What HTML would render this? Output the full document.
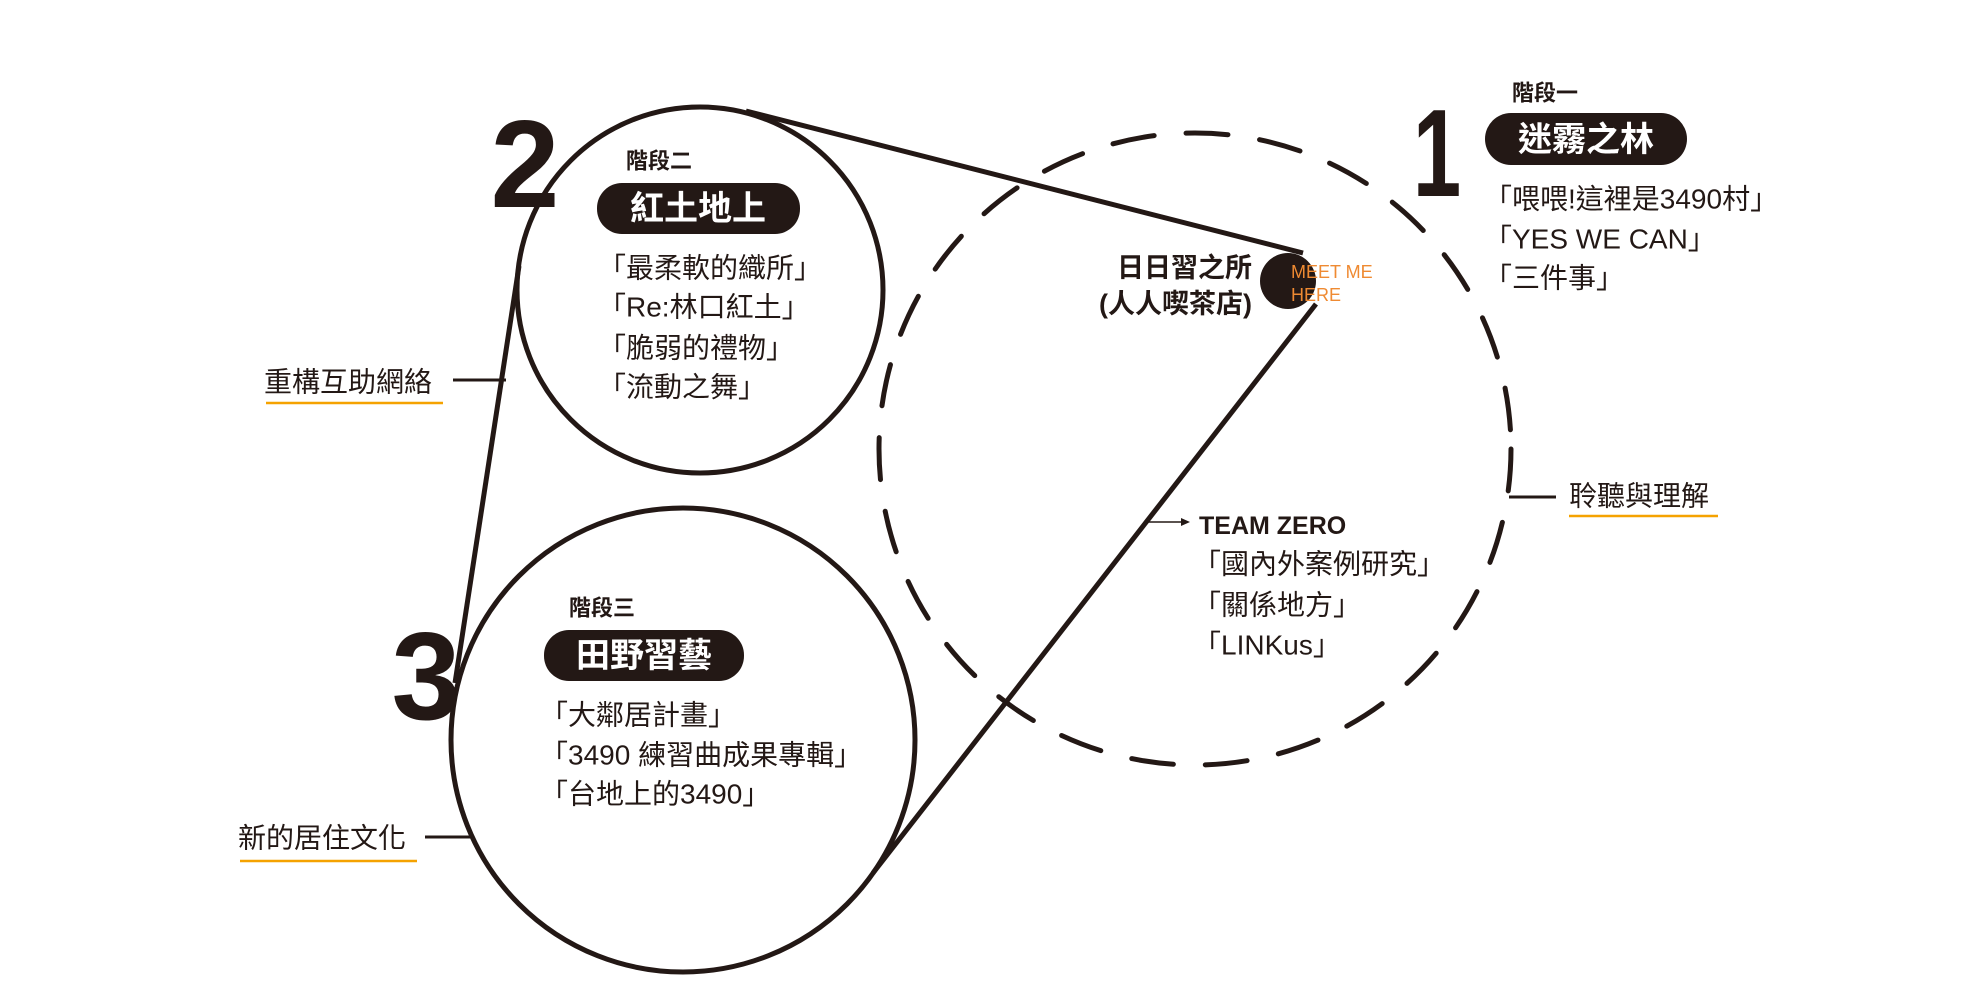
<!DOCTYPE html>
<html><head><meta charset="utf-8"><style>
html,body{margin:0;padding:0;background:#fff;}
svg{display:block;}
text{font-family:"Liberation Sans","Noto Sans CJK TC",sans-serif;fill:#231815;}
</style></head><body>
<svg width="1985" height="1000" viewBox="0 0 1985 1000" xmlns="http://www.w3.org/2000/svg">
<g fill="none" stroke="#231815" stroke-width="5">
<circle cx="1195" cy="449" r="316" stroke-dasharray="42 32" stroke-linecap="round"/>
<circle cx="700" cy="290" r="183"/>
<circle cx="683" cy="740" r="232"/>
<line x1="746" y1="111" x2="1303" y2="253"/>
<line x1="1316" y1="304" x2="873" y2="873"/>
<line x1="519" y1="266" x2="455" y2="683"/>
<line x1="453" y1="380" x2="506" y2="380" stroke-width="3"/>
<line x1="425" y1="837" x2="471" y2="837" stroke-width="3"/>
<line x1="1509" y1="497" x2="1556" y2="497" stroke-width="3"/>
<line x1="1145" y1="522" x2="1183" y2="522" stroke-width="1.5"/>
</g>
<polygon points="1190,522 1181,518 1181,526" fill="#231815"/>
<circle cx="1288" cy="281" r="28" fill="#231815"/>
<g stroke="#f5a200" stroke-width="2.5">
<line x1="266" y1="403" x2="443" y2="403"/>
<line x1="240" y1="861" x2="417" y2="861"/>
<line x1="1569" y1="516" x2="1718" y2="516"/>
</g>
<rect x="1485" y="113" width="202" height="52" rx="26" fill="#231815"/>
<rect x="597" y="183" width="203" height="51" rx="25" fill="#231815"/>
<rect x="544" y="630" width="200" height="51" rx="25" fill="#231815"/>
<g font-weight="bold" dominant-baseline="central">
<text x="0" y="153" font-size="124" text-anchor="middle" transform="translate(1437,0) scale(0.7,1)">1</text>
<text x="525" y="165" font-size="124" text-anchor="middle">2</text>
<text x="426" y="677" font-size="124" text-anchor="middle">3</text>
<text x="1512" y="93" font-size="22">階段一</text>
<text x="626" y="161" font-size="22">階段二</text>
<text x="569" y="608" font-size="22">階段三</text>
<text x="1586" y="140" font-size="34" text-anchor="middle" style="fill:#fff">迷霧之林</text>
<text x="698" y="209" font-size="34" text-anchor="middle" style="fill:#fff">紅土地上</text>
<text x="644" y="656" font-size="34" text-anchor="middle" style="fill:#fff">田野習藝</text>
<text x="1252" y="268" font-size="27" text-anchor="end">日日習之所</text>
<text x="1252" y="304" font-size="27" text-anchor="end">(人人喫茶店)</text>
<text x="1199" y="526" font-size="25">TEAM ZERO</text>
</g>
<g font-size="18" dominant-baseline="central">
<text x="1291" y="272" style="fill:#ef8a32">MEET ME</text>
<text x="1291" y="295" style="fill:#ef8a32">HERE</text>
</g>
<g font-size="28" dominant-baseline="central">
<text x="1484" y="199">「喂喂!這裡是3490村」</text>
<text x="1484" y="239">「YES WE CAN」</text>
<text x="1484" y="278">「三件事」</text>
<text x="598" y="268">「最柔軟的織所」</text>
<text x="598" y="307">「Re:林口紅土」</text>
<text x="598" y="348">「脆弱的禮物」</text>
<text x="598" y="387">「流動之舞」</text>
<text x="540" y="715">「大鄰居計畫」</text>
<text x="540" y="755">「3490 練習曲成果專輯」</text>
<text x="540" y="794">「台地上的3490」</text>
<text x="1193" y="564">「國內外案例研究」</text>
<text x="1193" y="605">「關係地方」</text>
<text x="1193" y="645">「LINKus」</text>
<text x="264" y="382">重構互助網絡</text>
<text x="238" y="838">新的居住文化</text>
<text x="1569" y="496">聆聽與理解</text>
</g>
</svg>
</body></html>
